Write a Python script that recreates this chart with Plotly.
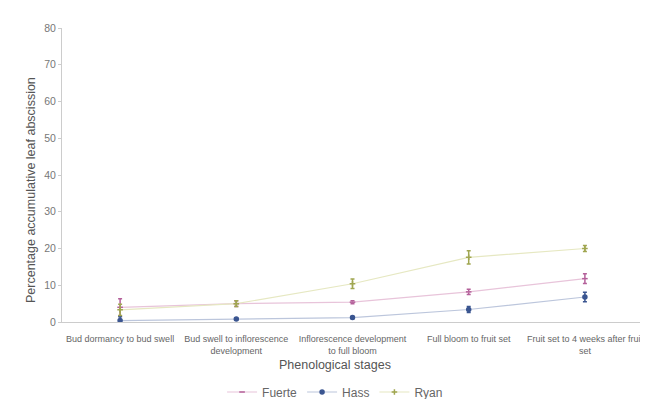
import plotly.graph_objects as go

stages = ["Bud dormancy to bud swell",
          "Bud swell to inflorescence<br>development",
          "Inflorescence development<br>to full bloom",
          "Full bloom to fruit set",
          "Fruit set to 4 weeks after fruit<br>set"]
fuerte = [4.0, 5.0, 5.4, 8.2, 11.8]
fuerte_err = [2.3, 0.8, 0.4, 0.7, 1.3]
hass = [0.4, 0.8, 1.2, 3.4, 6.8]
hass_err = [1.0, 0.2, 0.3, 0.8, 1.3]
ryan = [3.3, 5.0, 10.4, 17.6, 20.0]
ryan_err = [1.5, 0.8, 1.3, 1.8, 0.8]

font = "Liberation Sans, Arial, sans-serif"
fig = go.Figure()
series = [
    ("Fuerte", fuerte, fuerte_err, "#e8c4da", "#b4609a", "line-ew"),
    ("Hass", hass, hass_err, "#bcc6dc", "#3a5590", "circle"),
    ("Ryan", ryan, ryan_err, "#e6e8c2", "#a0a650", "cross-thin"),
]
for name, vals, err, lc, mc, sym in series:
    fig.add_trace(go.Scatter(
        x=stages, y=vals, name=name, mode="lines+markers",
        line=dict(color=lc, width=1.2),
        marker=dict(color=mc, size=4, symbol=sym, line=dict(color=mc, width=1.5)),
        error_y=dict(type="data", array=err, color=mc, thickness=1.5, width=2),
    ))

# page body has an 8px margin, so the figure is drawn offset by (8, 8)
fig.update_layout(
    width=640, height=391,
    margin=dict(l=54, r=5, t=20, b=77, autoexpand=False),
    paper_bgcolor="white", plot_bgcolor="white",
    font=dict(family=font, color="#555555", size=9),
    showlegend=True,
    legend=dict(orientation="h", x=0.47, xanchor="center", y=(322 - 392) / 294, yanchor="middle",
                font=dict(size=12, color="#666666"), itemwidth=30),
    xaxis=dict(range=[-0.5, 4.5], showline=True, linecolor="#cccccc", linewidth=1, showgrid=False,
               ticks="outside", ticklen=8, tickcolor="rgba(0,0,0,0)",
               tickfont=dict(size=9, color="#666666"), zeroline=False),
    yaxis=dict(range=[0, 80], dtick=10, showline=True, linecolor="#cccccc", linewidth=1,
               showgrid=False, ticks="outside", ticklen=3, tickcolor="#cccccc",
               tickfont=dict(size=10.5, color="#777777"), zeroline=False),
    annotations=[
        dict(text="Phenological stages", x=0.47, xref="paper", y=(322 - 365) / 294, yref="paper",
             yanchor="middle", showarrow=False, font=dict(size=12.5, color="#555555")),
        dict(text="Percentage accumulative leaf abscission", xref="paper", yref="paper",
             x=(22 - 62) / 581, y=(322 - 190) / 294, textangle=-90, showarrow=False,
             font=dict(size=12.5, color="#555555")),
    ],
)
fig.write_html("out.html")
